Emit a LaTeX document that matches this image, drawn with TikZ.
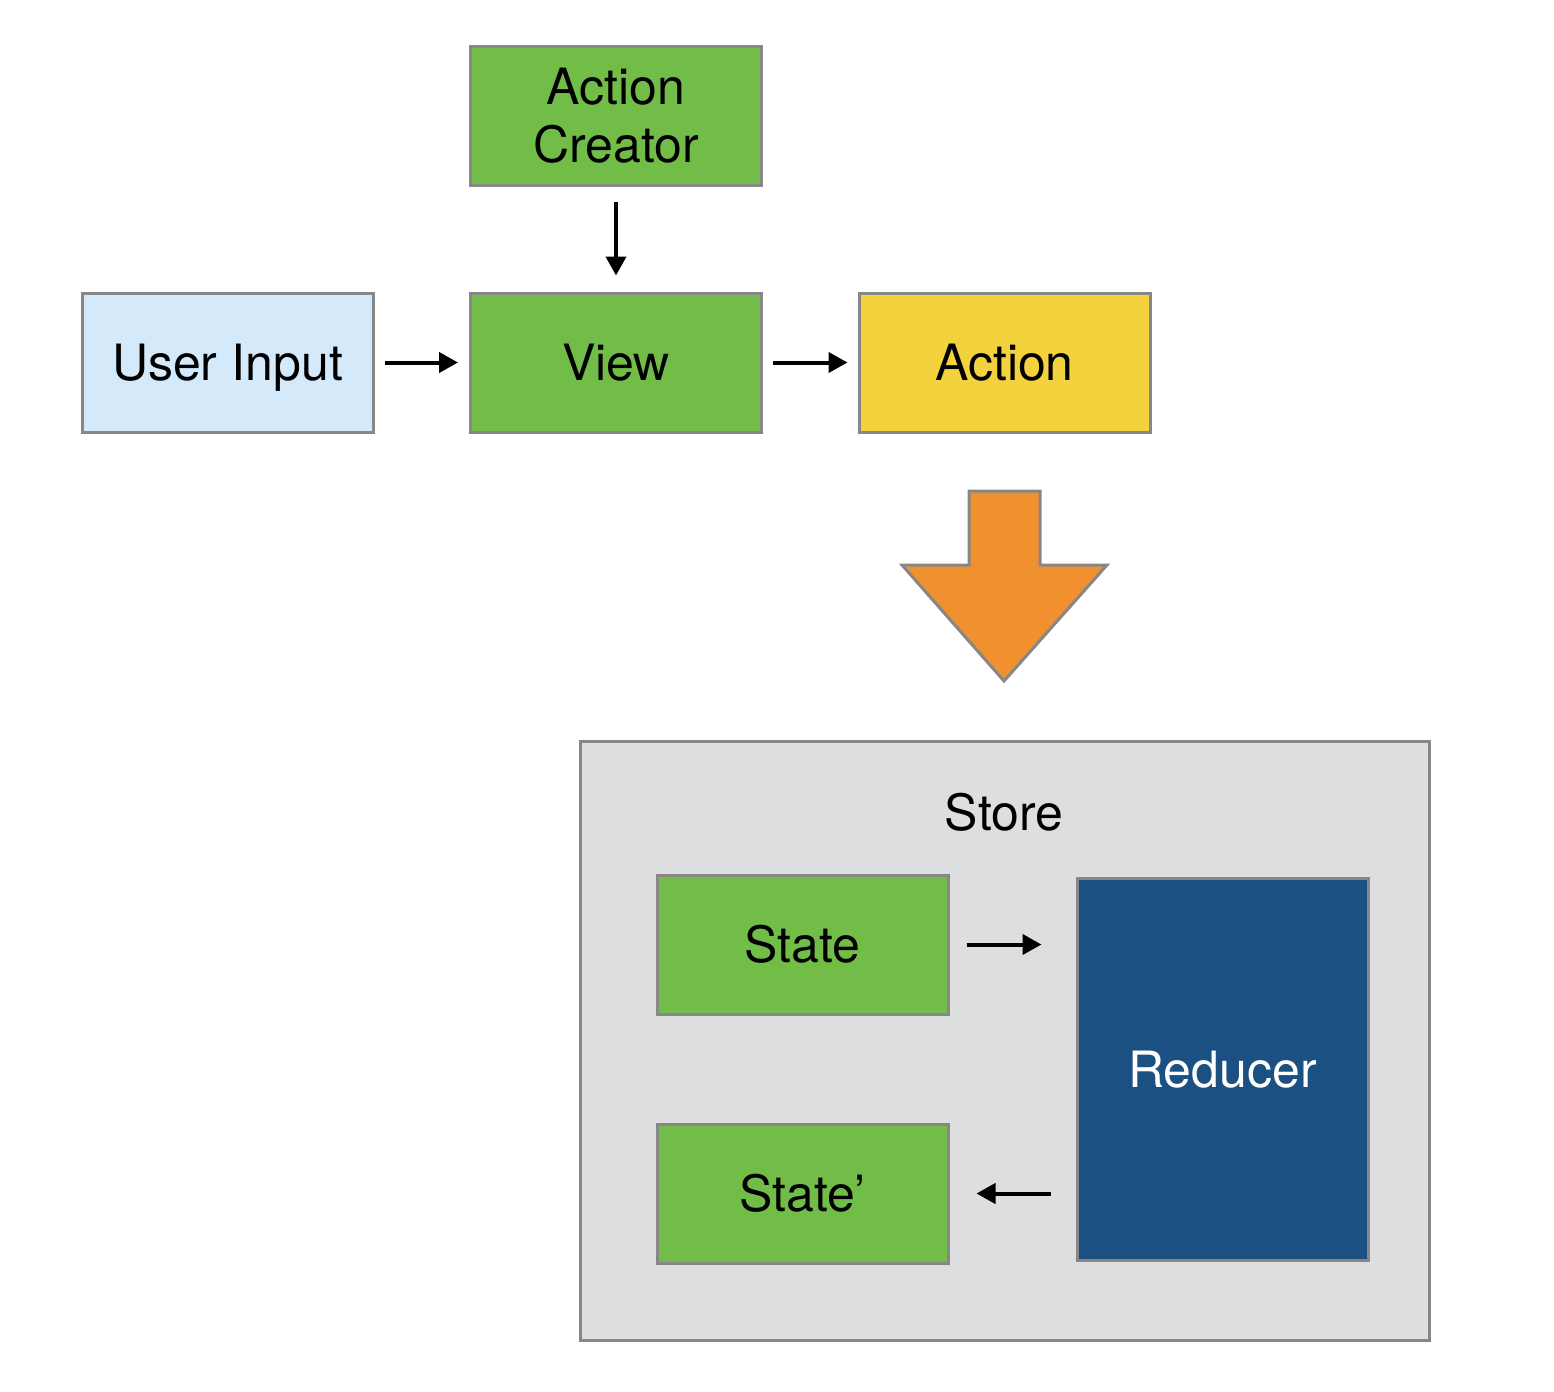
\documentclass[tikz,border=0pt]{standalone}
\usepackage{fontspec}
\setmainfont{TeX Gyre Heros}
\usetikzlibrary{arrows.meta,calc}
\definecolor{grn}{HTML}{72BC48}
\definecolor{bdr}{HTML}{878787}
\definecolor{blu}{HTML}{D4EAFB}
\definecolor{yel}{HTML}{F3D23E}
\definecolor{org}{HTML}{F0902F}
\definecolor{sto}{HTML}{DDDEE0}
\definecolor{red}{HTML}{1B5083}
\begin{document}
\begin{tikzpicture}[x=0.5pt,y=-0.5pt,
  box/.style={draw=bdr,line width=1.5pt,minimum width=145.5pt,minimum height=69.5pt,inner sep=0pt,align=center,font=\fontsize{25}{29}\selectfont},
  one/.style={text height=18pt,text depth=0pt},
  conn/.style={line width=2pt,-{Triangle[length=9.5pt,width=10pt]}}]
\useasboundingbox (0,0) rectangle (1554,1392);
\node[box,fill=sto,minimum width=424.5pt,minimum height=299.5pt] (store) at (1004.5,1040.5) {};
\node[font=\fontsize{25}{29}\selectfont,one,inner sep=0pt] (storelbl) at (1004,812) {Store};
\node[box,fill=grn] (ac) at (616,115.5) {Action\\Creator};
\node[box,one,fill=blu] (ui) at (227.5,362.5) {User Input};
\node[box,one,fill=grn] (view) at (616,362.5) {View};
\node[box,one,fill=yel] (action) at (1004.5,362.5) {Action};
\node[box,one,fill=grn] (state) at (802.5,944.5) {State};
\node[box,one,fill=grn] (statep) at (802.5,1193.5) {State’};
\node[box,one,fill=red,text=white,minimum height=191pt] (reducer) at (1222.5,1069) {Reducer};
\draw[conn,shorten <=7.5pt,shorten >=8pt] (ac) -- (view);
\draw[conn,shorten <=5pt,shorten >=5.5pt] (ui) -- (view);
\draw[conn,shorten <=5pt,shorten >=5pt] (view) -- (action);
\coordinate (sr) at (state.east -| reducer.west);
\draw[conn,shorten <=8.5pt,shorten >=17pt] (state.east) -- (sr);
\coordinate (rs) at (statep.east -| reducer.west);
\draw[conn,shorten <=12.5pt,shorten >=13.5pt] (rs) -- (statep.east);
\draw[draw=bdr,fill=org,line width=1.5pt,line join=miter] (969,491) -- (1040,491) -- (1040,565) -- (1107,565) -- (1004,681) -- (902,565) -- (969,565) -- cycle;
\end{tikzpicture}
\end{document}
